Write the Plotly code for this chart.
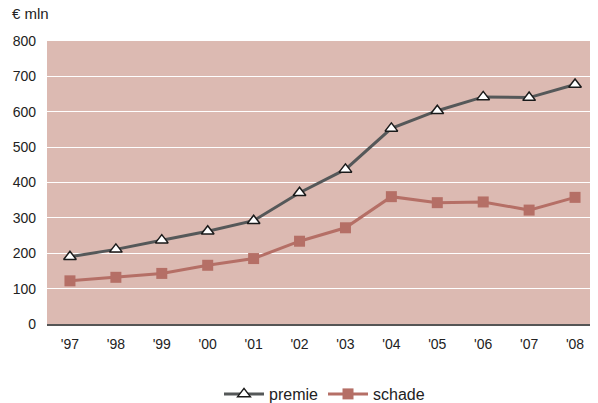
import plotly.graph_objects as go

years = ["'97", "'98", "'99", "'00", "'01", "'02", "'03", "'04", "'05", "'06", "'07", "'08"]
premie = [190, 211, 237, 262, 292, 371, 437, 553, 603, 642, 640, 677]
schade = [122, 132, 143, 166, 185, 234, 272, 360, 343, 345, 322, 358]
y_ticks = [0, 100, 200, 300, 400, 500, 600, 700, 800]

# The page body has an 8px default margin, so the figure is sized to fit the window.
fig = go.Figure()
fig.add_trace(go.Scatter(
    x=years, y=premie, name="premie", mode="lines+markers",
    line=dict(color="#555859", width=3),
    marker=dict(symbol="triangle-up", size=11, color="white",
                line=dict(color="#1a1a1a", width=1.5)),
))
fig.add_trace(go.Scatter(
    x=years, y=schade, name="schade", mode="lines+markers",
    line=dict(color="#b56f66", width=3),
    marker=dict(symbol="square", size=11, color="#b56f66"),
))

fig.update_layout(
    width=590, height=395,
    margin=dict(l=39, r=0, t=33, b=79, autoexpand=False),
    paper_bgcolor="white",
    plot_bgcolor="#dcbab2",
    font=dict(family="Liberation Sans, Arial, sans-serif", size=14, color="#222222"),
    showlegend=True,
    legend=dict(orientation="h", x=0.5 + 2 / 551, xanchor="center", y=-70 / 283, yanchor="middle",
                font=dict(size=16), itemwidth=40, traceorder="normal"),
    annotations=[dict(text="€ mln", xref="paper", yref="paper", x=-36 / 551, y=1 + 27 / 283,
                      xanchor="left", yanchor="middle", showarrow=False, borderpad=0,
                      font=dict(size=15, color="#222222"))],
)
fig.update_xaxes(
    type="category", range=[-0.5, len(years) - 0.5], showgrid=False, ticks="", showline=True,
    linecolor="#555555", linewidth=2, tickfont=dict(size=14),
    ticklabelstandoff=6, automargin=False,
)
fig.update_yaxes(
    range=[0, 800], tickvals=y_ticks, showgrid=True, gridcolor="white",
    gridwidth=1, zeroline=False, showline=False, ticks="",
    tickfont=dict(size=14), ticklabelstandoff=10, automargin=False,
)

fig.write_html("out.html")
